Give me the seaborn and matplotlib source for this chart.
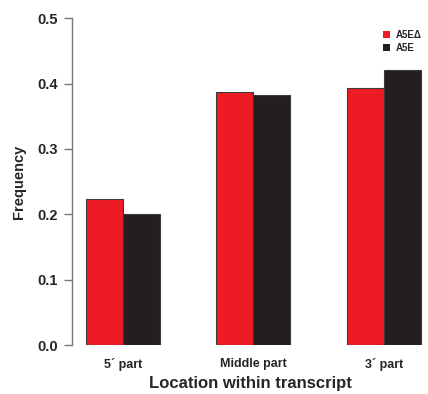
import matplotlib
matplotlib.use("Agg")
import matplotlib.pyplot as plt
import seaborn as sns
import pandas as pd
from matplotlib.patches import Patch

# Data
locations = ["5\u00b4 part", "Middle part", "3\u00b4 part"]
groups = ["A5E\u0394", "A5E"]
freq_mutant = [0.223, 0.387, 0.393]
freq_wt = [0.200, 0.382, 0.420]

colors = {"A5E\u0394": "#ED1C24", "A5E": "#231F20"}

df = pd.DataFrame({
    "Location": locations * 2,
    "Group": [groups[0]] * 3 + [groups[1]] * 3,
    "Frequency": freq_mutant + freq_wt,
})

sns.set_style("white")
plt.rcParams["font.family"] = ["Liberation Sans", "DejaVu Sans"]
plt.rcParams["font.weight"] = "bold"

fig = plt.figure(figsize=(4.28, 3.94), dpi=100)
ax = fig.add_axes([0.168, 0.124, 0.832, 0.830])

sns.barplot(data=df, x="Location", y="Frequency", hue="Group",
            palette=colors, saturation=1, width=0.566,
            edgecolor="#3a3a3a", linewidth=0.8, ax=ax, legend=False)

ax.set_xlim(-0.39, 2.337)
ax.set_ylim(0, 0.5)
ax.set_yticks([0.0, 0.1, 0.2, 0.3, 0.4, 0.5])
ax.set_yticklabels(["0.0", "0.1", "0.2", "0.3", "0.4", "0.5"], fontsize=10.5, fontweight="bold")
ax.set_xticks(range(3))
ax.set_xticklabels(locations, fontsize=9, fontweight="bold")

for s in ["top", "right", "bottom"]:
    ax.spines[s].set_visible(False)
ax.spines["left"].set_color("#777777")
ax.spines["left"].set_linewidth(1.0)
ax.tick_params(axis="y", left=True, length=6, width=1.0, color="#777777", pad=4)
ax.tick_params(axis="x", bottom=False, pad=6)

ax.set_ylabel("Frequency", fontsize=10.5, fontweight="bold", labelpad=8)
ax.set_xlabel("Location within transcript", fontsize=12, fontweight="bold", labelpad=3)

handles = [Patch(facecolor=colors[g], edgecolor="none") for g in groups]
ax.legend(handles, groups, loc="upper left", bbox_to_anchor=(0.85, 0.99),
          frameon=False, handlelength=0.7, handleheight=0.7,
          handletextpad=0.6, labelspacing=0.3, prop={"weight": "bold", "size": 7})

fig.savefig("out.png", dpi=100)
